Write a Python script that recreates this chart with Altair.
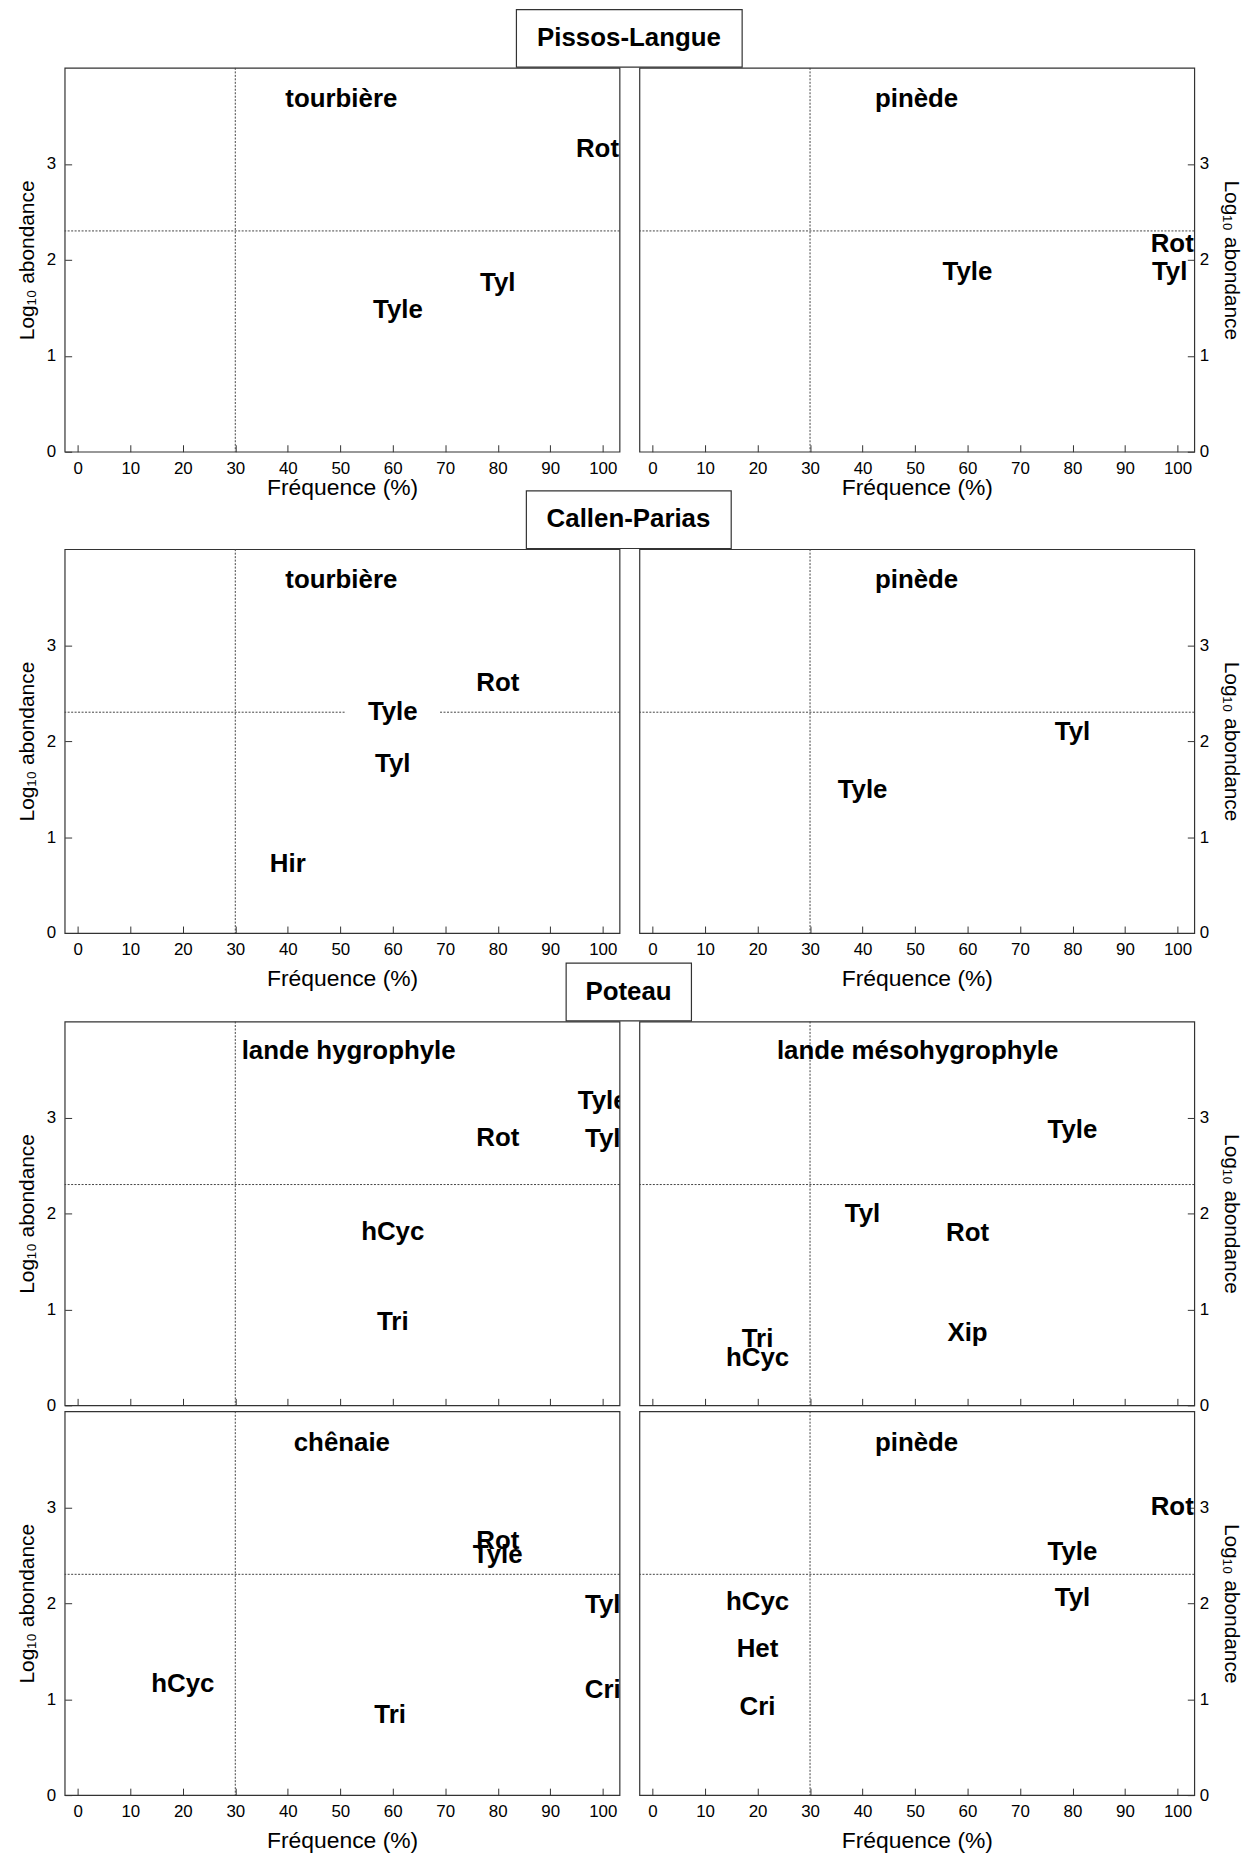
import altair as alt
import pandas as pd

FONT = "Liberation Sans"

# ---------------- data ----------------
X_TICKS = [0, 10, 20, 30, 40, 50, 60, 70, 80, 90, 100]
Y_TICKS = [0, 1, 2, 3]
X_DOMAIN = [-2.5, 103.2]
Y_DOMAIN = [0, 4]
FREQ_THRESHOLD = [30]
ABUND_THRESHOLD = [2.301]

X_TITLE = "Fréquence (%)"
Y_TITLE = "Log₁₀ abondance"

SITES = ["Pissos-Langue", "Callen-Parias", "Poteau"]
SITE_BOX_WIDTHS = [227, 206, 126]

HABITATS = ["tourbière", "pinède", "tourbière", "pinède",
            "lande hygrophyle", "lande mésohygrophyle", "chênaie", "pinède"]
HABITAT_FREQ = [50.2, 50.3, 50.2, 50.3, 51.6, 50.5, 50.3, 50.3]
HABITAT_LOGAB = [3.68, 3.68, 3.68, 3.68, 3.69, 3.69, 3.67, 3.67]

# Pissos-Langue, tourbière
P1_TAXA = ["Rot", "Tyl", "Tyle"]
P1_FREQ = [99, 80, 61]
P1_LOGAB = [3.15, 1.76, 1.475]
# Pissos-Langue, pinède
P2_TAXA = ["Tyle", "Rot", "Tyl"]
P2_FREQ = [60, 99, 98.5]
P2_LOGAB = [1.87, 2.16, 1.87]
# Callen-Parias, tourbière
P3_TAXA = ["Rot", "Tyle", "Tyl", "Hir"]
P3_FREQ = [80, 60, 60, 40]
P3_LOGAB = [2.60, 2.30, 1.76, 0.715]
P3_BOXED = ["Tyle"]
# Callen-Parias, pinède
P4_TAXA = ["Tyl", "Tyle"]
P4_FREQ = [80, 40]
P4_LOGAB = [2.09, 1.485]
# Poteau, lande hygrophyle
P5_TAXA = ["Tyle", "Tyl", "Rot", "hCyc", "Tri"]
P5_FREQ = [100, 100, 80, 60, 60]
P5_LOGAB = [3.17, 2.77, 2.79, 1.81, 0.87]
# Poteau, lande mésohygrophyle
P6_TAXA = ["Tyle", "Tyl", "Rot", "Xip", "Tri", "hCyc"]
P6_FREQ = [80, 40, 60, 60, 20, 20]
P6_LOGAB = [2.87, 1.99, 1.80, 0.75, 0.69, 0.49]
# Poteau, chênaie
P7_TAXA = ["Rot", "Tyle", "Tyl", "hCyc", "Cri", "Tri"]
P7_FREQ = [80, 80, 100, 20, 100, 59.5]
P7_LOGAB = [2.645, 2.50, 1.98, 1.155, 1.10, 0.83]
# Poteau, pinède
P8_TAXA = ["Rot", "Tyle", "Tyl", "hCyc", "Het", "Cri"]
P8_FREQ = [99, 80, 80, 20, 20, 20]
P8_LOGAB = [3.0, 2.535, 2.05, 2.01, 1.525, 0.915]

PANEL_DATA = [
    (P1_TAXA, P1_FREQ, P1_LOGAB, []),
    (P2_TAXA, P2_FREQ, P2_LOGAB, []),
    (P3_TAXA, P3_FREQ, P3_LOGAB, P3_BOXED),
    (P4_TAXA, P4_FREQ, P4_LOGAB, []),
    (P5_TAXA, P5_FREQ, P5_LOGAB, []),
    (P6_TAXA, P6_FREQ, P6_LOGAB, []),
    (P7_TAXA, P7_FREQ, P7_LOGAB, []),
    (P8_TAXA, P8_FREQ, P8_LOGAB, []),
]

# ---------------- layout / style ----------------
W, H = 558, 386
GAP = 16
LINE = "#333333"
DASH = "#444444"
LABEL_SIZE = 26
TICK_LEN = 7
BOX_H = 58


def panel(i, side, x_labels=True, x_title_pad=0):
    taxa, freq, logab, boxed = PANEL_DATA[i]
    df = pd.DataFrame({"freq": freq, "logab": logab, "taxon": taxa})
    df["boxed"] = df["taxon"].isin(boxed)

    x_kwargs = dict(values=X_TICKS, tickSize=TICK_LEN, offset=-TICK_LEN,
                    labelFlush=False, domain=False, grid=False,
                    labelFontSize=17, labelPadding=9, labels=x_labels,
                    titleFontSize=23, titleFontWeight="normal",
                    titlePadding=x_title_pad)
    x_kwargs["title"] = X_TITLE if x_labels else None
    xaxis = alt.Axis(**x_kwargs)

    if side == "left":
        yaxis = alt.Axis(orient="left", values=Y_TICKS, tickSize=TICK_LEN,
                         offset=-TICK_LEN, labelFlush=False, domain=False,
                         grid=False, labelFontSize=17, labelPadding=9,
                         title=Y_TITLE, titleFontSize=21,
                         titleFontWeight="normal", titlePadding=9)
    else:
        yaxis = alt.Axis(orient="right", values=Y_TICKS, tickSize=TICK_LEN,
                         offset=-TICK_LEN, labelFlush=False, domain=False,
                         grid=False, labelFontSize=17, labelPadding=5,
                         title=Y_TITLE, titleFontSize=21,
                         titleFontWeight="normal", titlePadding=12)

    X = alt.X("freq:Q", scale=alt.Scale(domain=X_DOMAIN, nice=False, zero=False), axis=xaxis)
    Y = alt.Y("logab:Q", scale=alt.Scale(domain=Y_DOMAIN, nice=False, zero=False), axis=yaxis)

    vrule = alt.Chart(pd.DataFrame({"freq": FREQ_THRESHOLD})).mark_rule(
        color=DASH, strokeDash=[2, 1.5], strokeWidth=1).encode(x=X)
    hrule = alt.Chart(pd.DataFrame({"logab": ABUND_THRESHOLD})).mark_rule(
        color=DASH, strokeDash=[2, 1.5], strokeWidth=1).encode(y=Y)

    layers = [vrule, hrule]
    if len(boxed):
        halo = alt.Chart(df).transform_filter("datum.boxed").mark_point(
            shape="M-1,-0.25L1,-0.25L1,0.25L-1,0.25Z", filled=True,
            color="white", opacity=1, size=8836, strokeWidth=0
        ).encode(x=X, y=Y)
        layers.append(halo)

    txt = alt.Chart(df).mark_text(
        font=FONT, fontWeight="bold", fontSize=LABEL_SIZE, color="black",
        clip=True, align="center", baseline="middle"
    ).encode(x=X, y=Y, text="taxon:N")
    hab = alt.Chart(pd.DataFrame({"freq": [HABITAT_FREQ[i]],
                                  "logab": [HABITAT_LOGAB[i]],
                                  "taxon": [HABITATS[i]]})).mark_text(
        font=FONT, fontWeight="bold", fontSize=LABEL_SIZE, color="black",
        align="center", baseline="middle"
    ).encode(x=X, y=Y, text="taxon:N")
    layers += [txt, hab]
    return alt.layer(*layers).properties(width=W, height=H)


def site_box(k):
    # framed box with the site name in its middle, centred over the gap
    df = pd.DataFrame({"site": [SITES[k]], "bx": [0.5], "by": [0.5]})
    box = alt.Chart(df).mark_text(
        font=FONT, fontWeight="bold", fontSize=26, color="black",
        align="center", baseline="middle"
    ).encode(
        x=alt.X("bx:Q", scale=alt.Scale(domain=[0, 1]), axis=None),
        y=alt.Y("by:Q", scale=alt.Scale(domain=[0, 1]), axis=None),
        text="site:N"
    ).properties(width=SITE_BOX_WIDTHS[k], height=BOX_H)
    # invisible spacer (a view without scales draws no frame)
    lead = W + GAP / 2 - SITE_BOX_WIDTHS[k] / 2
    spacer = alt.Chart(pd.DataFrame({"s": [""]})).mark_text().encode(
        text="s:N").properties(width=lead, height=BOX_H)
    return alt.hconcat(spacer, box, spacing=0)


row1 = alt.hconcat(panel(0, "left", x_title_pad=0), panel(1, "right", x_title_pad=0), spacing=GAP)
row2 = alt.hconcat(panel(2, "left", x_title_pad=10), panel(3, "right", x_title_pad=10), spacing=GAP)
row3 = alt.hconcat(panel(4, "left", x_labels=False), panel(5, "right", x_labels=False), spacing=GAP)
row4 = alt.hconcat(panel(6, "left", x_title_pad=10), panel(7, "right", x_title_pad=10), spacing=GAP)

g1 = alt.concat(site_box(0), row1, columns=1, align="none", spacing=-2)
g2 = alt.concat(site_box(1), row2, columns=1, align="none", spacing=-2)
rows34 = alt.concat(row3, row4, columns=1, align="none", spacing=-5)
g3 = alt.concat(site_box(2), rows34, columns=1, align="none", spacing=-2)

g12 = alt.concat(g1, g2, columns=1, align="none", spacing=-11)
chart = alt.concat(g12, g3, columns=1, align="none", spacing=-30).properties(
    padding={"left": 7, "top": -5, "right": 2, "bottom": 0}
).configure_view(
    stroke=LINE, strokeWidth=1.2
).configure_axis(
    labelFont=FONT, titleFont=FONT, labelColor="black", titleColor="black",
    tickColor=LINE, tickWidth=1
)

chart.save("out.html", embed_options={"renderer": "svg", "actions": False})
